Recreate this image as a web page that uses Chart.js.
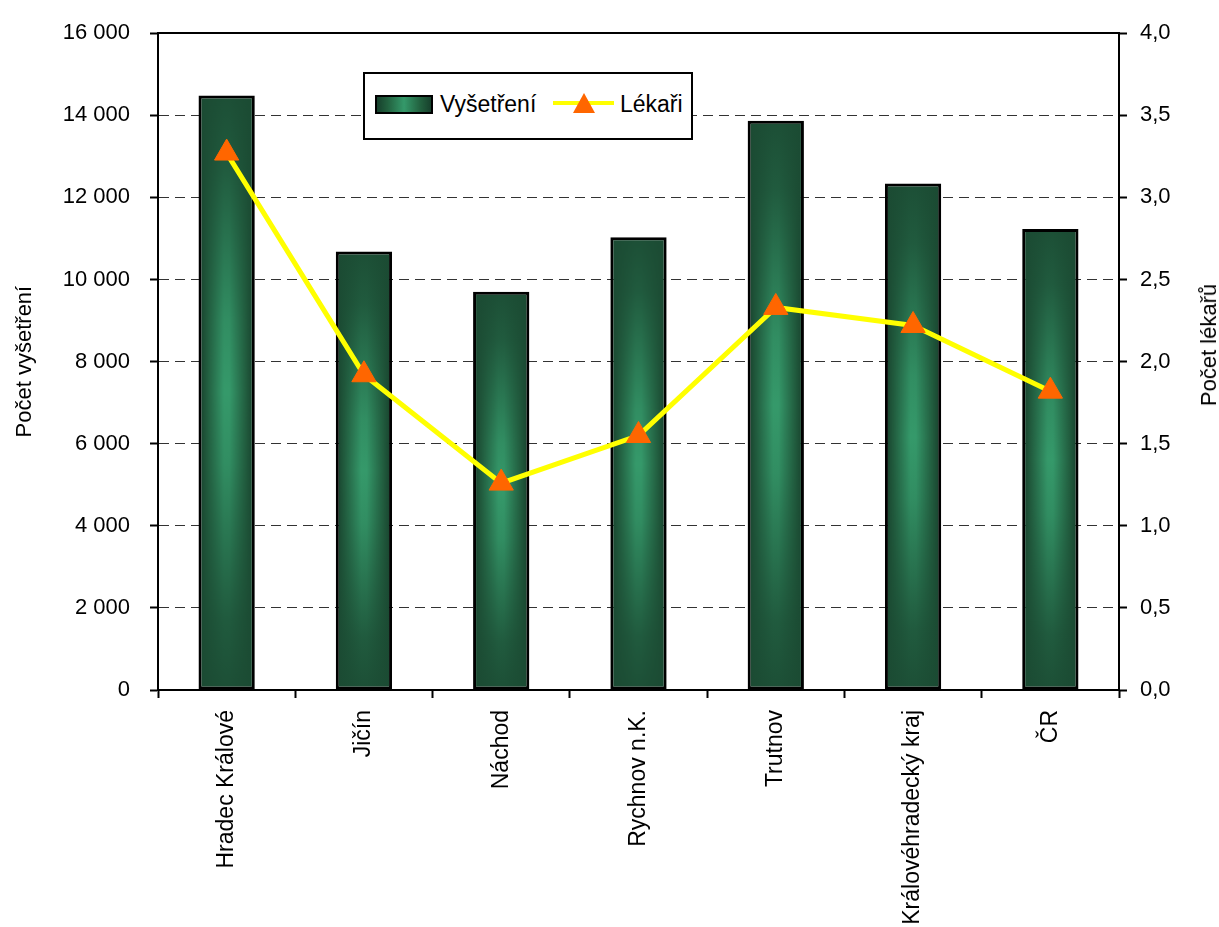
<!DOCTYPE html>
<html lang="cs">
<head>
<meta charset="utf-8">
<title>Počet vyšetření a lékařů</title>
<script src="https://cdn.jsdelivr.net/npm/chart.js@4.4.1/dist/chart.umd.min.js"></script>
<style>
  body { margin: 0; background: #fff; font-family: "Liberation Sans", Arial, sans-serif; }
  .wrap { position: relative; width: 1219px; height: 927px; }
  .legend { position: absolute; left: 363px; top: 72px; width: 326px; height: 64px; border: 2px solid #000; background: #fff; }
  .legend .bar { position: absolute; left: 10px; top: 21px; width: 54px; height: 15px; border: 2px solid #000;
    background: linear-gradient(to right, #17402c, #22613f 20%, #34996a 50%, #22613f 80%, #17402c); }
  .legend .txt { position: absolute; top: 17px; font-size: 23px; line-height: 26px; color: #000; white-space: nowrap; }
  .legend .line { position: absolute; left: 188px; top: 27px; width: 61px; height: 4px; background: #ffff00; }
  .legend .tri { position: absolute; left: 208px; top: 19px; width: 0; height: 0;
    border-left: 11px solid transparent; border-right: 11px solid transparent; border-bottom: 20px solid #ff6600; }
  .ytitle2 { position: absolute; left: 1209px; top: 345px; transform: translate(-50%, -50%) rotate(-90deg);
    font-size: 22px; white-space: nowrap; color: #000; }
</style>
</head>
<body>
<div class="wrap">
  <canvas id="chart" width="1219" height="927"></canvas>
  <div class="legend">
    <div class="bar"></div>
    <span class="txt" style="left: 75px">Vyšetření</span>
    <div class="line"></div>
    <div class="tri"></div>
    <span class="txt" style="left: 255px">Lékaři</span>
  </div>
  <div class="ytitle2">Počet lékařů</div>
</div>

<script>
// data
const categories = ['Hradec Králové', 'Jičín', 'Náchod', 'Rychnov n.K.', 'Trutnov', 'Královéhradecký kraj', 'ČR'];
const vysetreni = [14480, 10680, 9700, 11030, 13870, 12340, 11230];
const lekari = [3.27, 1.92, 1.26, 1.55, 2.33, 2.22, 1.82];
const vysetreniTicks = [0, 2000, 4000, 6000, 8000, 10000, 12000, 14000, 16000];
const lekariTicks = [0, 0.5, 1, 1.5, 2, 2.5, 3, 3.5, 4];

const BAR_PCT = 0.41;

Chart.defaults.font.family = '"Liberation Sans", Arial, sans-serif';
Chart.defaults.font.size = 22;
Chart.defaults.color = '#000';

function fmtThousands(v) {
  return String(v).replace(/\B(?=(\d{3})+(?!\d))/g, ' ');
}

// green bar fill: dark edges, lighter middle (horizontal + vertical shading)
function barFill(context) {
  const chart = context.chart;
  const xs = chart.scales.x;
  const ys = chart.scales.y;
  if (!xs || !ys || context.dataIndex === undefined || !xs.width) return '#2a7a52';
  const cx = xs.getPixelForValue(context.dataIndex);
  const w = Math.max(1, Math.round(xs.width / categories.length * BAR_PCT));
  const top = ys.getPixelForValue(context.raw);
  const bottom = ys.getPixelForValue(0);
  const h = Math.max(1, Math.round(bottom - top));

  const off = document.createElement('canvas');
  off.width = w;
  off.height = h;
  const g = off.getContext('2d');

  const hg = g.createLinearGradient(0, 0, w, 0);
  hg.addColorStop(0, '#163d2a');
  hg.addColorStop(0.15, '#215c3e');
  hg.addColorStop(0.45, '#35996a');
  hg.addColorStop(0.55, '#35996a');
  hg.addColorStop(0.85, '#215c3e');
  hg.addColorStop(1, '#163d2a');
  g.fillStyle = hg;
  g.fillRect(0, 0, w, h);

  const vg = g.createLinearGradient(0, 0, 0, h);
  vg.addColorStop(0, 'rgba(27,75,51,0.95)');
  vg.addColorStop(0.12, 'rgba(27,75,51,0.8)');
  vg.addColorStop(0.38, 'rgba(27,75,51,0.15)');
  vg.addColorStop(0.5, 'rgba(27,75,51,0)');
  vg.addColorStop(0.62, 'rgba(27,75,51,0.15)');
  vg.addColorStop(0.88, 'rgba(27,75,51,0.8)');
  vg.addColorStop(1, 'rgba(27,75,51,0.95)');
  g.fillStyle = vg;
  g.fillRect(0, 0, w, h);

  const pattern = chart.ctx.createPattern(off, 'no-repeat');
  pattern.setTransform(new DOMMatrix().translate(cx - w / 2, top));
  return pattern;
}

new Chart(document.getElementById('chart'), {
  type: 'bar',
  data: {
    labels: categories,
    datasets: [
      {
        type: 'line',
        label: 'Lékaři',
        data: lekari,
        xAxisID: 'x',
        yAxisID: 'y1',
        order: 0,
        borderColor: '#ffff00',
        borderWidth: 5,
        tension: 0,
        pointStyle: 'triangle',
        pointRadius: 14,
        pointHoverRadius: 14,
        pointBackgroundColor: '#ff6600',
        pointBorderColor: '#ff6600',
        pointBorderWidth: 1,
      },
      {
        type: 'bar',
        label: 'Vyšetření',
        data: vysetreni,
        xAxisID: 'x',
        yAxisID: 'y',
        order: 1,
        backgroundColor: barFill,
        borderColor: '#000',
        borderWidth: 3,
        borderSkipped: false,
        categoryPercentage: 1,
        barPercentage: BAR_PCT,
      },
    ],
  },
  options: {
    responsive: false,
    animation: false,
    layout: { padding: { top: 28, left: 0, right: 0, bottom: 0 } },
    plugins: {
      legend: { display: false },
      tooltip: { enabled: false },
    },
    scales: {
      x: {
        type: 'category',
        position: 'bottom',
        offset: true,
        grid: {
          offset: true,
          drawOnChartArea: false,
          drawTicks: true,
          tickLength: 8,
          tickColor: '#000',
          tickWidth: 2,
        },
        border: { color: '#000', width: 2 },
        ticks: { minRotation: 90, maxRotation: 90, padding: 12, autoSkip: false, font: { size: 23 } },
        afterFit(scale) { scale.height = 927 - 690; },
      },
      top: {
        type: 'linear',
        position: 'top',
        display: true,
        grid: { display: false },
        ticks: { display: false },
        border: { display: true, color: '#000', width: 2 },
        afterFit(scale) { scale.height = 0; },
      },
      y: {
        type: 'linear',
        position: 'left',
        min: vysetreniTicks[0],
        max: vysetreniTicks[vysetreniTicks.length - 1],
        afterBuildTicks(scale) { scale.ticks = vysetreniTicks.map((v) => ({ value: v })); },
        ticks: {
          padding: 20,
          callback: (v) => fmtThousands(v),
        },
        grid: {
          color: (c) => (c.tick && c.tick.value === 16000 ? 'rgba(0,0,0,0)' : '#333'),
          lineWidth: 1,
          drawTicks: true,
          tickLength: 8,
          tickColor: '#000',
          tickWidth: 2,
          tickBorderDash: [],
        },
        border: { color: '#000', width: 2, dash: [10, 6] },
        title: { display: true, text: 'Počet vyšetření', font: { size: 22 }, padding: { top: 12, bottom: 4 } },
        afterFit(scale) { scale.width = 158; },
      },
      y1: {
        type: 'linear',
        position: 'right',
        min: lekariTicks[0],
        max: lekariTicks[lekariTicks.length - 1],
        afterBuildTicks(scale) { scale.ticks = lekariTicks.map((v) => ({ value: v })); },
        ticks: {
          padding: 13,
          callback: (v) => v.toFixed(1).replace('.', ','),
        },
        grid: {
          drawOnChartArea: false,
          drawTicks: true,
          tickLength: 8,
          tickColor: '#000',
          tickWidth: 2,
        },
        border: { color: '#000', width: 2 },
        afterFit(scale) { scale.width = 1219 - 1119; },
      },
    },
  },
});
</script>
</body>
</html>
